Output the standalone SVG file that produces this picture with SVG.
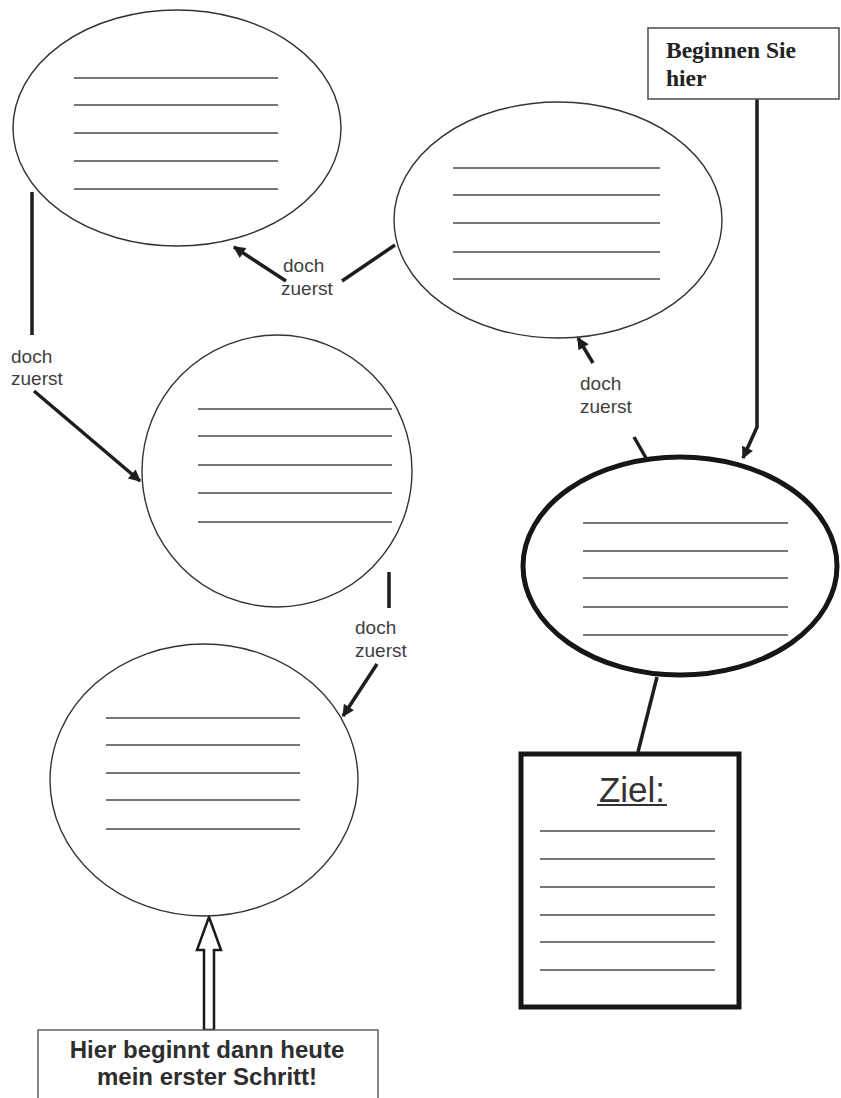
<svg xmlns="http://www.w3.org/2000/svg" width="841" height="1098" viewBox="0 0 841 1098">
  <style>
    .bubble { fill: #ffffff; stroke: #333333; stroke-width: 1.4; }
    .goal { fill: #ffffff; stroke: #161616; stroke-width: 5; }
    .ruled { stroke: #4a4a4a; stroke-width: 1.3; }
    .link { fill: none; stroke: #1e1e1e; stroke-width: 3.5; stroke-linecap: butt; }
    .lbl { font-family: "Liberation Sans", Arial, sans-serif; font-size: 19px; fill: #404040; }
    .start { font-family: "Liberation Serif", "Times New Roman", serif; font-weight: bold; font-size: 23.5px; fill: #222222; }
    .first { font-family: "Liberation Sans", Arial, sans-serif; font-weight: bold; font-size: 24px; fill: #2e2e2e; }
  </style>
  <defs>
    <marker id="head" viewBox="0 0 10 10" refX="9" refY="5" markerWidth="14" markerHeight="12" markerUnits="userSpaceOnUse" orient="auto">
      <path d="M0,0 L10,5 L0,10 z" fill="#1e1e1e"/>
    </marker>
  </defs>
  <rect width="841" height="1098" fill="#ffffff"/>

  <!-- connectors -->
  <g id="connectors">
    <!-- from the start box down to the goal ellipse -->
    <polyline class="link" points="757,99 757,427 743,458" marker-end="url(#head)"/>
    <!-- goal ellipse tail to the upper-middle ellipse -->
    <line class="link" x1="646" y1="458" x2="634" y2="437"/>
    <line class="link" x1="593" y1="363" x2="578" y2="338" marker-end="url(#head)"/>
    <!-- upper-middle ellipse to the top-left ellipse -->
    <line class="link" x1="395" y1="245" x2="342" y2="281"/>
    <line class="link" x1="286" y1="281" x2="234" y2="247" marker-end="url(#head)"/>
    <!-- top-left ellipse to the middle ellipse -->
    <line class="link" x1="32" y1="192" x2="32" y2="335"/>
    <line class="link" x1="34" y1="391" x2="140" y2="481" marker-end="url(#head)"/>
    <!-- middle ellipse to the bottom ellipse -->
    <line class="link" x1="389" y1="572" x2="389" y2="608"/>
    <line class="link" x1="377" y1="664" x2="343" y2="716" marker-end="url(#head)"/>
    <!-- goal ellipse to the goal box -->
    <line class="link" x1="657" y1="677" x2="638" y2="752" stroke-width="3"/>
    <!-- hollow arrow from the first-step box -->
    <polygon points="209,917 221,950 214,950 214,1030 204,1030 204,950 197,950" fill="#ffffff" stroke="#1a1a1a" stroke-width="2.5" stroke-linejoin="miter"/>
  </g>

  <!-- connector labels -->
  <g id="labels">
    <text class="lbl" x="283" y="272">doch</text>
    <text class="lbl" x="281" y="295">zuerst</text>
    <text class="lbl" x="11" y="363">doch</text>
    <text class="lbl" x="11" y="385">zuerst</text>
    <text class="lbl" x="580" y="390">doch</text>
    <text class="lbl" x="580" y="413">zuerst</text>
    <text class="lbl" x="355" y="634">doch</text>
    <text class="lbl" x="355" y="657">zuerst</text>
  </g>

  <g id="step-top-left">
    <ellipse class="bubble" cx="177" cy="128" rx="164" ry="118"/>
    <g class="ruled">
      <line x1="74" y1="78" x2="278" y2="78"/>
      <line x1="74" y1="105" x2="278" y2="105"/>
      <line x1="74" y1="133" x2="278" y2="133"/>
      <line x1="74" y1="161" x2="278" y2="161"/>
      <line x1="74" y1="189" x2="278" y2="189"/>
    </g>
  </g>

  <g id="step-top-middle">
    <ellipse class="bubble" cx="558" cy="220" rx="164" ry="118"/>
    <g class="ruled">
      <line x1="453" y1="168" x2="660" y2="168"/>
      <line x1="453" y1="195" x2="660" y2="195"/>
      <line x1="453" y1="223" x2="660" y2="223"/>
      <line x1="453" y1="252" x2="660" y2="252"/>
      <line x1="453" y1="279" x2="660" y2="279"/>
    </g>
  </g>

  <g id="step-middle">
    <ellipse class="bubble" cx="277" cy="471" rx="135" ry="136"/>
    <g class="ruled">
      <line x1="198" y1="409" x2="392" y2="409"/>
      <line x1="198" y1="436" x2="392" y2="436"/>
      <line x1="198" y1="465" x2="392" y2="465"/>
      <line x1="198" y1="493" x2="392" y2="493"/>
      <line x1="198" y1="522" x2="392" y2="522"/>
    </g>
  </g>

  <g id="step-bottom">
    <ellipse class="bubble" cx="204" cy="780" rx="154" ry="136"/>
    <g class="ruled">
      <line x1="106" y1="718" x2="300" y2="718"/>
      <line x1="106" y1="745" x2="300" y2="745"/>
      <line x1="106" y1="773" x2="300" y2="773"/>
      <line x1="106" y1="800" x2="300" y2="800"/>
      <line x1="106" y1="829" x2="300" y2="829"/>
    </g>
  </g>

  <g id="goal-step">
    <ellipse class="goal" cx="680" cy="566" rx="157" ry="109"/>
    <g class="ruled">
      <line x1="583" y1="523" x2="788" y2="523"/>
      <line x1="583" y1="551" x2="788" y2="551"/>
      <line x1="583" y1="578" x2="788" y2="578"/>
      <line x1="583" y1="607" x2="788" y2="607"/>
      <line x1="583" y1="635" x2="788" y2="635"/>
    </g>
  </g>

  <g id="goal-box">
    <rect x="521" y="754" width="218" height="253" fill="#ffffff" stroke="#161616" stroke-width="5"/>
    <text x="632" y="802" text-anchor="middle" font-family="Liberation Sans, Arial, sans-serif" font-size="35" fill="#333333">Ziel:</text>
    <line x1="597" y1="805" x2="667" y2="805" stroke="#333333" stroke-width="2"/>
    <g class="ruled">
      <line x1="540" y1="831" x2="715" y2="831"/>
      <line x1="540" y1="859" x2="715" y2="859"/>
      <line x1="540" y1="887" x2="715" y2="887"/>
      <line x1="540" y1="915" x2="715" y2="915"/>
      <line x1="540" y1="942" x2="715" y2="942"/>
      <line x1="540" y1="970" x2="715" y2="970"/>
    </g>
  </g>

  <g id="start-box">
    <rect x="648" y="28" width="191" height="71" fill="#ffffff" stroke="#555555" stroke-width="1.6"/>
    <text class="start" x="666" y="58">Beginnen Sie</text>
    <text class="start" x="666" y="86">hier</text>
  </g>

  <g id="first-step-box">
    <rect x="38" y="1030" width="340" height="80" fill="#ffffff" stroke="#555555" stroke-width="1.4"/>
    <text class="first" x="207" y="1058" text-anchor="middle">Hier beginnt dann heute</text>
    <text class="first" x="207" y="1085" text-anchor="middle">mein erster Schritt!</text>
  </g>
</svg>
